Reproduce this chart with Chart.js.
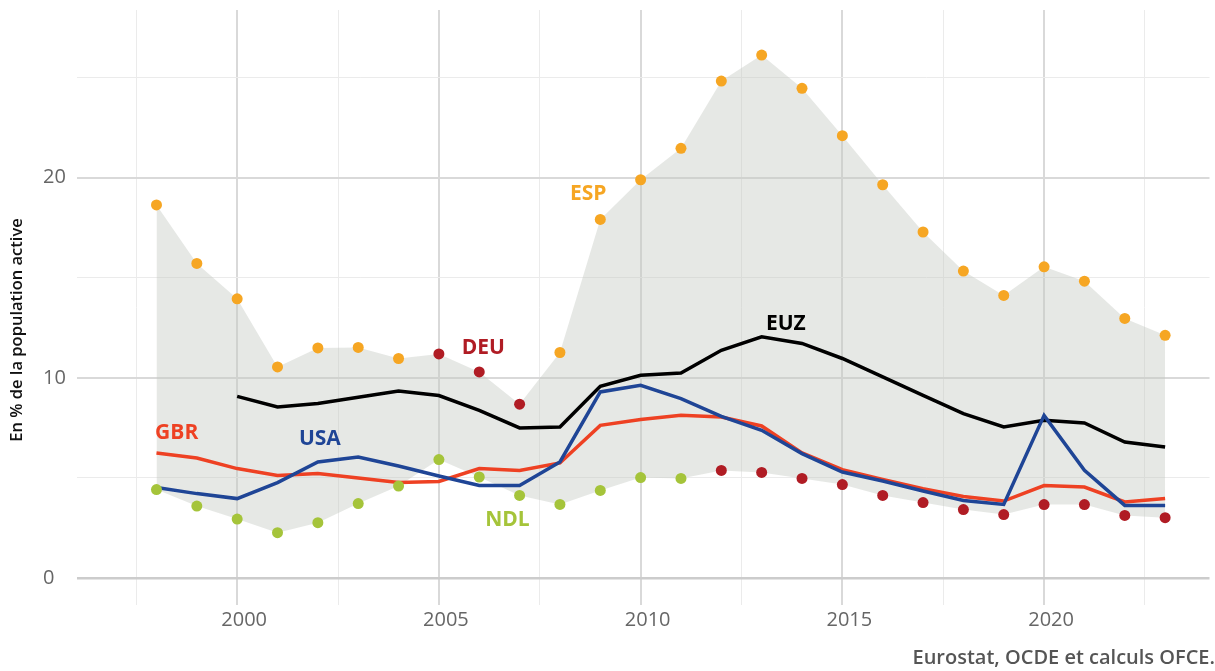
<!DOCTYPE html>
<html>
<head>
<meta charset="utf-8">
<script src="https://cdn.jsdelivr.net/npm/chart.js@4/dist/chart.umd.min.js"></script>
<style>
  html, body { margin: 0; padding: 0; background: #fff; }
  #wrap { width: 1215px; height: 671px; }
</style>
</head>
<body>
<div id="wrap"><canvas id="chart" width="1215" height="671"></canvas></div>
<script>
// years
var years = [1998, 1999, 2000, 2001, 2002, 2003, 2004, 2005, 2006, 2007, 2008, 2009, 2010,
  2011, 2012, 2013, 2014, 2015, 2016, 2017, 2018, 2019, 2020, 2021, 2022, 2023];

// top of the band (highest country) and who it is
var maxVal = [18.64, 15.72, 13.95, 10.55, 11.5, 11.52, 10.97, 11.2, 10.3, 8.69, 11.27, 17.92, 19.9,
  21.47, 24.83, 26.13, 24.47, 22.1, 19.65, 17.29, 15.34, 14.12, 15.55, 14.83, 12.97, 12.13];
var maxCountry = ["ESP", "ESP", "ESP", "ESP", "ESP", "ESP", "ESP", "DEU", "DEU", "DEU", "ESP", "ESP", "ESP",
  "ESP", "ESP", "ESP", "ESP", "ESP", "ESP", "ESP", "ESP", "ESP", "ESP", "ESP", "ESP", "ESP"];

// bottom of the band (lowest country)
var minVal = [4.42, 3.6, 2.95, 2.27, 2.77, 3.72, 4.6, 5.92, 5.05, 4.13, 3.68, 4.38, 5.02,
  4.98, 5.38, 5.28, 4.98, 4.67, 4.13, 3.77, 3.42, 3.17, 3.67, 3.67, 3.13, 3.02];
var minCountry = ["NDL", "NDL", "NDL", "NDL", "NDL", "NDL", "NDL", "NDL", "NDL", "NDL", "NDL", "NDL", "NDL",
  "NDL", "DEU", "DEU", "DEU", "DEU", "DEU", "DEU", "DEU", "DEU", "DEU", "DEU", "DEU", "DEU"];

// lines (EUZ starts in 2000)
var euz = [null, null, 9.08, 8.55, 8.72, 9.03, 9.35, 9.12, 8.38, 7.5, 7.55, 9.58, 10.13,
  10.25, 11.38, 12.05, 11.72, 10.97, 10.05, 9.13, 8.22, 7.55, 7.88, 7.75, 6.8, 6.55];
var usa = [4.52, 4.22, 3.97, 4.77, 5.8, 6.05, 5.6, 5.1, 4.63, 4.63, 5.8, 9.3, 9.63,
  8.97, 8.08, 7.38, 6.22, 5.3, 4.85, 4.35, 3.88, 3.68, 8.13, 5.38, 3.63, 3.63];
var gbr = [6.25, 6.0, 5.47, 5.13, 5.22, 5.0, 4.77, 4.83, 5.47, 5.38, 5.75, 7.63, 7.92,
  8.13, 8.05, 7.6, 6.25, 5.42, 4.93, 4.47, 4.08, 3.85, 4.62, 4.55, 3.8, 3.97];

var xTicks = [1997.5, 2000, 2002.5, 2005, 2007.5, 2010, 2012.5, 2015, 2017.5, 2020, 2022.5];
var yTicks = [0, 5, 10, 15, 20, 25];

var colors = {
  ESP: "#f6a623",
  DEU: "#b01c24",
  NDL: "#a5c43a",
  EUZ: "#000000",
  USA: "#1f4596",
  GBR: "#ee4123"
};

// where the country names sit, in data units
var tags = [
  { text: "ESP", x: 2008.7, y: 19.2 },
  { text: "DEU", x: 2006.1, y: 11.5 },
  { text: "EUZ", x: 2013.6, y: 12.7 },
  { text: "GBR", x: 1998.5, y: 7.26 },
  { text: "USA", x: 2002.05, y: 6.93 },
  { text: "NDL", x: 2006.7, y: 2.91 }
];

function pts(vals) {
  var out = [];
  for (var i = 0; i < years.length; i++) {
    if (vals[i] !== null) out.push({ x: years[i], y: vals[i] });
  }
  return out;
}

var FONT = "'Open Sans', 'Noto Sans', sans-serif";

var tagPlugin = {
  id: "tags",
  afterDatasetsDraw: function(chart) {
    var ctx = chart.ctx;
    var xs = chart.scales.x, ys = chart.scales.y;
    ctx.save();
    ctx.font = "bold 21px " + FONT;
    ctx.textAlign = "center";
    ctx.textBaseline = "middle";
    tags.forEach(function(t) {
      ctx.fillStyle = colors[t.text];
      ctx.fillText(t.text, xs.getPixelForValue(t.x), ys.getPixelForValue(t.y));
    });
    // y axis title
    ctx.translate(17, 330);
    ctx.rotate(-Math.PI / 2);
    ctx.font = "600 16.5px " + FONT;
    ctx.fillStyle = "#111";
    ctx.fillText("En % de la population active", 0, 0);
    ctx.restore();
  }
};

new Chart(document.getElementById("chart"), {
  type: "line",
  data: {
    datasets: [
      {
        label: "max",
        data: pts(maxVal),
        borderWidth: 0,
        pointRadius: 0,
        backgroundColor: "rgba(196,200,192,0.42)",
        fill: "+1",
        order: 9
      },
      {
        label: "min",
        data: pts(minVal),
        borderWidth: 0,
        pointRadius: 0,
        fill: false,
        order: 8
      },
      {
        label: "EUZ",
        data: pts(euz),
        borderColor: colors.EUZ,
        borderWidth: 3.5,
        pointRadius: 0,
        order: 3
      },
      {
        label: "GBR",
        data: pts(gbr),
        borderColor: colors.GBR,
        borderWidth: 3.5,
        pointRadius: 0,
        order: 2
      },
      {
        label: "USA",
        data: pts(usa),
        borderColor: colors.USA,
        borderWidth: 3.5,
        pointRadius: 0,
        order: 1
      },
      {
        label: "top",
        data: pts(maxVal),
        showLine: false,
        pointRadius: 5.5,
        pointBorderWidth: 0,
        pointBackgroundColor: maxCountry.map(function(c) { return colors[c]; }),
        order: 0
      },
      {
        label: "bottom",
        data: pts(minVal),
        showLine: false,
        pointRadius: 5.5,
        pointBorderWidth: 0,
        pointBackgroundColor: minCountry.map(function(c) { return colors[c]; }),
        order: 0
      }
    ]
  },
  options: {
    responsive: false,
    animation: false,
    layout: { padding: { left: 43, right: 0, top: 10, bottom: 0 } },
    plugins: {
      legend: { display: false },
      tooltip: { enabled: false },
      title: {
        display: true,
        text: "Eurostat, OCDE et calculs OFCE.",
        position: "bottom",
        align: "end",
        color: "#555555",
        font: { family: FONT, size: 20, weight: "600" },
        padding: { top: 0, bottom: 1 }
      }
    },
    scales: {
      x: {
        type: "linear",
        min: 1996.03,
        max: 2024.1,
        afterBuildTicks: function(s) {
          s.ticks = xTicks.map(function(v) { return { value: v }; });
        },
        afterFit: function(s) {
          s.height = 41.3;
          s.paddingLeft = 0;
          s.paddingRight = 0;
        },
        border: { display: false },
        grid: {
          drawTicks: false,
          color: function(c) { return c.tick && c.tick.value % 5 === 0 ? "#d9d9d9" : "#ebebeb"; },
          lineWidth: function(c) { return c.tick && c.tick.value % 5 === 0 ? 2 : 1; }
        },
        ticks: {
          autoSkip: false,
          maxRotation: 0,
          padding: 4,
          labelOffset: 7,
          color: "#666666",
          font: { family: FONT, size: 20 },
          callback: function(v) { return v % 5 === 0 ? String(v) : ""; }
        }
      },
      y: {
        min: -1.33,
        max: 28.38,
        afterBuildTicks: function(s) {
          s.ticks = yTicks.map(function(v) { return { value: v }; });
        },
        afterFit: function(s) {
          s.width = 34;
          s.paddingTop = 0;
          s.paddingBottom = 0;
        },
        border: { display: false },
        grid: {
          drawTicks: false,
          color: function(c) {
            if (!c.tick) return "#ebebeb";
            if (c.tick.value === 0) return "#cccccc";
            return c.tick.value % 10 === 0 ? "#d9d9d9" : "#ebebeb";
          },
          lineWidth: function(c) {
            if (!c.tick) return 1;
            if (c.tick.value === 0) return 2.5;
            return c.tick.value % 10 === 0 ? 2 : 1;
          }
        },
        ticks: {
          crossAlign: "far",
          padding: 8,
          color: "#666666",
          font: { family: FONT, size: 20 },
          callback: function(v) { return v % 10 === 0 ? String(v) : ""; }
        }
      }
    }
  },
  plugins: [tagPlugin]
});
</script>
</body>
</html>
